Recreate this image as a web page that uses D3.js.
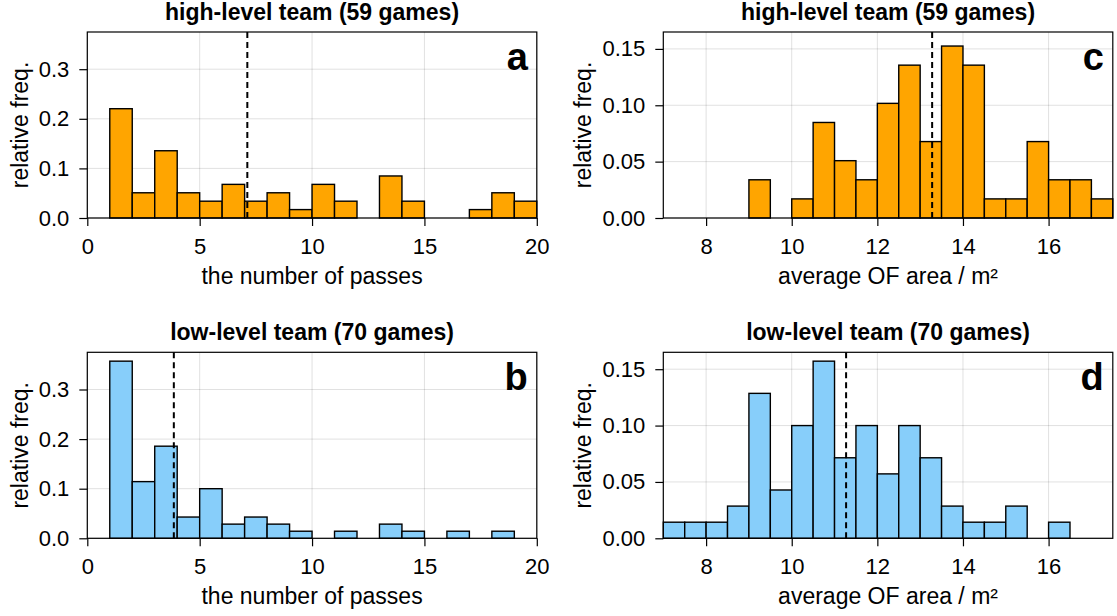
<!DOCTYPE html>
<html>
<head>
<meta charset="utf-8">
<script src="https://cdn.jsdelivr.net/npm/d3@7"></script>
<style>
    body { margin: 0; background: #fff; }
    svg { display: block; font-family: "Liberation Sans", Arial, sans-serif; }
</style>
</head>
<body>
<svg id="chart" width="1117" height="616"></svg>
<script>
// games per team
const highGames = 59;
const lowGames = 70;

// histogram counts per bin (number of passes, bin width 1, first edge 1)
const passStart = 1;
const passWidth = 1;
const passHigh = [13, 3, 8, 3, 2, 4, 2, 3, 1, 4, 2, 0, 5, 2, 0, 0, 1, 3, 2];
const passLow = [25, 8, 13, 3, 7, 2, 3, 2, 1, 0, 1, 0, 2, 1, 0, 1, 0, 1];

// histogram counts per bin (average OF area, bin width 0.5)
const areaWidth = 0.5;
const areaHighStart = 9;
const areaHigh = [2, 0, 1, 5, 3, 2, 6, 8, 4, 9, 8, 1, 1, 4, 2, 2, 1];
const areaLowStart = 7;
const areaLow = [1, 1, 1, 2, 9, 3, 7, 11, 5, 7, 4, 7, 5, 2, 1, 1, 2, 0, 1];

// mean values (dashed lines)
const passMeans = [7.12, 3.85];
const areaMeans = [13.28, 11.27];

// axis limits and ticks
const passDomain = [0, 20];
const areaDomain = [7, 17.5];
const passTicksX = [0, 5, 10, 15, 20];
const areaTicksX = [8, 10, 12, 14, 16];
const passTicksY = [0, 0.1, 0.2, 0.3];
const areaTicksY = [0, 0.05, 0.10, 0.15];
const passYMax = 0.375;
const areaYMax = 0.165;

const titles = ["high-level team (59 games)", "low-level team (70 games)"];
const colors = ["#FFA500", "#87CEFA"];

const svg = d3.select("#chart");
const fontSize = 23;
const tickSize = 22;
const plotW = 449.5;
const plotH = 186;
const colX = [87.3, 663.3];
const rowY = [32, 352.3];

const panels = [
    { letter: "a", col: 0, row: 0, counts: passHigh, n: highGames, start: passStart, bw: passWidth, mean: passMeans[0] },
    { letter: "b", col: 0, row: 1, counts: passLow, n: lowGames, start: passStart, bw: passWidth, mean: passMeans[1] },
    { letter: "c", col: 1, row: 0, counts: areaHigh, n: highGames, start: areaHighStart, bw: areaWidth, mean: areaMeans[0] },
    { letter: "d", col: 1, row: 1, counts: areaLow, n: lowGames, start: areaLowStart, bw: areaWidth, mean: areaMeans[1] }
];

panels.forEach(p => {
    const isPass = p.col === 0;
    const x = d3.scaleLinear().domain(isPass ? passDomain : areaDomain).range([0, plotW]);
    const y = d3.scaleLinear().domain([0, isPass ? passYMax : areaYMax]).range([plotH, 0]);
    const ticksX = isPass ? passTicksX : areaTicksX;
    const ticksY = isPass ? passTicksY : areaTicksY;

    const g = svg.append("g")
        .attr("transform", `translate(${colX[p.col]},${rowY[p.row]})`);

    // grid
    g.selectAll(".gx").data(ticksX).enter().append("line")
        .attr("x1", d => x(d)).attr("x2", d => x(d))
        .attr("y1", 0).attr("y2", plotH)
        .attr("stroke", "rgba(0,0,0,0.12)").attr("stroke-width", 1);
    g.selectAll(".gy").data(ticksY).enter().append("line")
        .attr("x1", 0).attr("x2", plotW)
        .attr("y1", d => y(d)).attr("y2", d => y(d))
        .attr("stroke", "rgba(0,0,0,0.12)").attr("stroke-width", 1);

    // bars
    const bins = p.counts.map((c, i) => ({
        x0: p.start + i * p.bw,
        x1: p.start + (i + 1) * p.bw,
        v: c / p.n
    }));
    g.selectAll(".bar").data(bins).enter().append("rect")
        .attr("class", "bar")
        .attr("x", d => x(d.x0))
        .attr("width", d => x(d.x1) - x(d.x0))
        .attr("y", d => y(d.v))
        .attr("height", d => y(0) - y(d.v))
        .attr("fill", colors[p.row])
        .attr("stroke", "#000")
        .attr("stroke-width", 1.4);

    // mean line
    g.append("line")
        .attr("x1", x(p.mean)).attr("x2", x(p.mean))
        .attr("y1", 0).attr("y2", plotH)
        .attr("stroke", "#000")
        .attr("stroke-width", 2)
        .attr("stroke-dasharray", "6,4");

    // frame
    g.append("rect")
        .attr("width", plotW).attr("height", plotH)
        .attr("fill", "none").attr("stroke", "#000").attr("stroke-width", 1.2);

    // axes
    const xAxis = g.append("g")
        .attr("transform", `translate(0,${plotH})`)
        .call(d3.axisBottom(x).tickValues(ticksX).tickSize(8).tickPadding(12).tickFormat(d3.format("d")));
    const yAxis = g.append("g")
        .call(d3.axisLeft(y).tickValues(ticksY).tickSize(8).tickPadding(10)
            .tickFormat(d3.format(isPass ? ".1f" : ".2f")));
    [xAxis, yAxis].forEach(a => {
        a.select(".domain").remove();
        a.selectAll("line").attr("stroke", "#000").attr("stroke-width", 1.2);
        a.selectAll("text")
            .attr("fill", "#000")
            .style("font-size", tickSize + "px")
            .style("font-family", "\"Liberation Sans\", Arial, sans-serif");
    });

    // title
    g.append("text")
        .attr("x", plotW / 2).attr("y", -12)
        .attr("text-anchor", "middle")
        .style("font-size", fontSize + "px")
        .style("font-weight", "bold")
        .text(titles[p.row]);

    // x label
    const xl = g.append("text")
        .attr("x", plotW / 2).attr("y", plotH + 66)
        .attr("text-anchor", "middle")
        .style("font-size", fontSize + "px");
    if (isPass) {
        xl.text("the number of passes");
    } else {
        xl.text("average OF area / m\u00B2");
    }

    // y label
    const ylx = isPass ? -67 : -80;
    g.append("text")
        .attr("transform", `translate(${ylx},${plotH / 2}) rotate(-90)`)
        .attr("text-anchor", "middle")
        .attr("dy", "0.35em")
        .style("font-size", fontSize + "px")
        .text("relative freq.");

    // panel letter
    g.append("text")
        .attr("x", plotW - 9).attr("y", 38)
        .attr("text-anchor", "end")
        .style("font-size", "38px")
        .style("font-weight", "bold")
        .text(p.letter);
});
</script>
</body>
</html>
